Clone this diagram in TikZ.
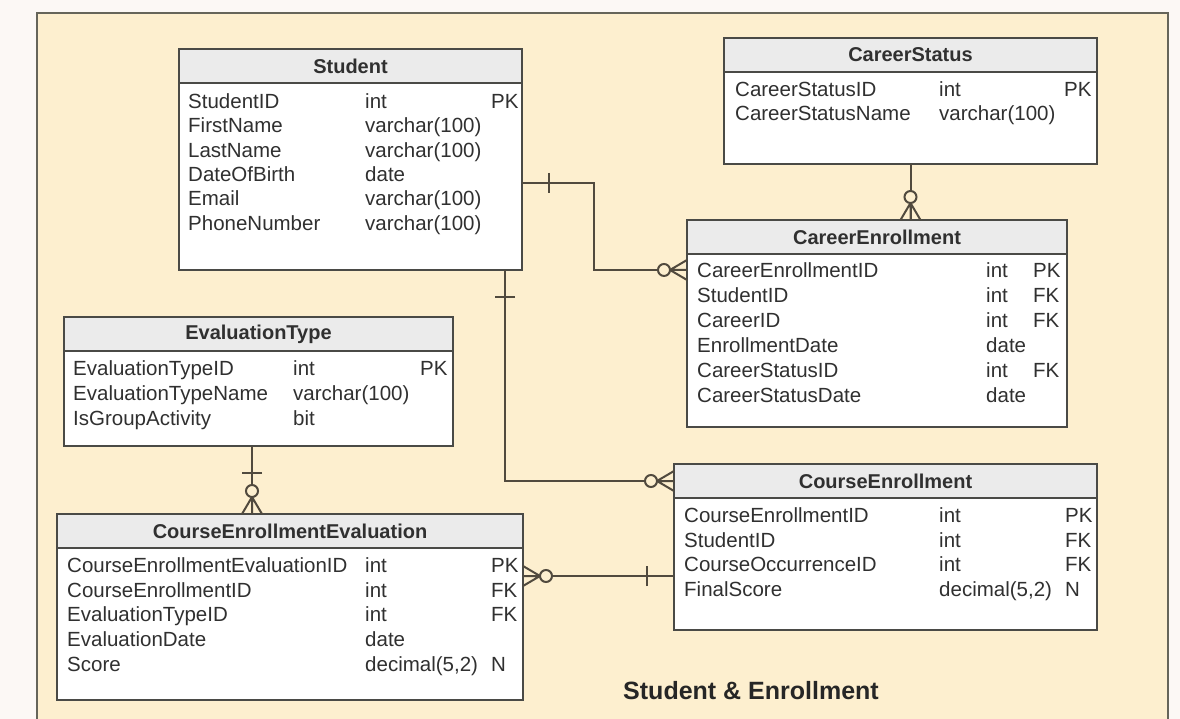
\documentclass[tikz,border=0pt]{standalone}
\usepackage{fontspec}
\setmainfont{Liberation Sans}
\definecolor{pagebg}{HTML}{FCF8F5}
\definecolor{panel}{HTML}{FDEFCF}
\definecolor{panelrule}{HTML}{66655A}
\definecolor{headgray}{HTML}{EBEBEB}
\definecolor{boxrule}{HTML}{4A4A46}
\definecolor{ink}{HTML}{303030}
\definecolor{linkcol}{HTML}{514A3E}

% one table: name, left, top, width, height, title
\newcommand\ertable[6]{%
  \node[tablebox, minimum width=#4pt, minimum height=#5pt, anchor=north west] (#1) at (#2,#3) {};
  \fill[headgray] (#1.north west) rectangle ([yshift=-34pt]#1.north east);
  \draw[seprule] ([yshift=-34pt]#1.north west) -- ([yshift=-34pt]#1.north east);
  \draw[boxrule, line width=1.7pt] (#1.north west) rectangle (#1.south east);
  \node[headtext] (#1-title) at ([yshift=-17pt]#1.north) {#6};
}
% one attribute row: table, index, name, type, key
\newcommand\errow[5]{%
  \pgfmathsetmacro\rowy{\rowzero+(#2-1)*\rowstep}%
  \node[celltext] (#1-n#2) at (\colname,\rowy) {#3};
  \node[celltext] (#1-t#2) at (\coltype,\rowy) {#4};
  \node[celltext] (#1-k#2) at (\colkey,\rowy) {#5};
}
% zero-or-many end: point on the box edge, direction pointing away from the box
\newcommand\manyend[2]{%
  \begin{scope}[shift={(#1)}, rotate=#2]
    \draw[link] (0,-10) -- (17,0) -- (0,10) (0,0) -- (17,0);
    \draw[link, fill=panel] (23,0) circle (6);
  \end{scope}
}
% exactly-one bar
\newcommand\onebar[2]{%
  \begin{scope}[shift={(#1)}, rotate=#2]
    \draw[link] (27,-10) -- (27,10);
  \end{scope}
}

\begin{document}
\begin{tikzpicture}[x=1pt, y=-1pt,
  tablebox/.style={draw=none, fill=white, inner sep=0pt, outer sep=0pt},
  seprule/.style={draw=boxrule, line width=1.8pt},
  headtext/.style={font=\fontsize{20}{24}\bfseries, text=ink, inner sep=0pt},
  celltext/.style={anchor=base west, inner sep=0pt, font=\fontsize{20.5}{24}\selectfont, text=ink},
  link/.style={draw=linkcol, line width=2pt},
  titletext/.style={font=\fontsize{25}{30}\bfseries, text=black!85}]
  \useasboundingbox (0,0) rectangle (1180,719);
  \clip (0,0) rectangle (1180,719);
  \fill[pagebg] (0,0) rectangle (1180,719);
  \draw[fill=panel, draw=panelrule, line width=2.2pt] (37,13) rectangle (1168,760);

  % tables
  \ertable{student}{179}{49}{343}{221}{Student}
  \def\colname{188}\def\coltype{365}\def\colkey{491}\def\rowzero{108.3}\def\rowstep{24.4}
  \errow{student}{1}{StudentID}{int}{PK}
  \errow{student}{2}{FirstName}{varchar(100)}{}
  \errow{student}{3}{LastName}{varchar(100)}{}
  \errow{student}{4}{DateOfBirth}{date}{}
  \errow{student}{5}{Email}{varchar(100)}{}
  \errow{student}{6}{PhoneNumber}{varchar(100)}{}

  \ertable{cs}{724}{38}{373}{126}{CareerStatus}
  \def\colname{735}\def\coltype{939}\def\colkey{1064}\def\rowzero{96.3}\def\rowstep{24}
  \errow{cs}{1}{CareerStatusID}{int}{PK}
  \errow{cs}{2}{CareerStatusName}{varchar(100)}{}

  \ertable{ce}{687}{220}{380}{207}{CareerEnrollment}
  \def\colname{697}\def\coltype{986}\def\colkey{1033}\def\rowzero{277.3}\def\rowstep{25}
  \errow{ce}{1}{CareerEnrollmentID}{int}{PK}
  \errow{ce}{2}{StudentID}{int}{FK}
  \errow{ce}{3}{CareerID}{int}{FK}
  \errow{ce}{4}{EnrollmentDate}{date}{}
  \errow{ce}{5}{CareerStatusID}{int}{FK}
  \errow{ce}{6}{CareerStatusDate}{date}{}

  \ertable{et}{64}{317}{389}{129}{EvaluationType}
  \def\colname{73}\def\coltype{293}\def\colkey{420}\def\rowzero{375.3}\def\rowstep{25}
  \errow{et}{1}{EvaluationTypeID}{int}{PK}
  \errow{et}{2}{EvaluationTypeName}{varchar(100)}{}
  \errow{et}{3}{IsGroupActivity}{bit}{}

  \ertable{cee}{57}{514}{466}{186}{CourseEnrollmentEvaluation}
  \def\colname{67}\def\coltype{365}\def\colkey{491}\def\rowzero{572.3}\def\rowstep{24.75}
  \errow{cee}{1}{CourseEnrollmentEvaluationID}{int}{PK}
  \errow{cee}{2}{CourseEnrollmentID}{int}{FK}
  \errow{cee}{3}{EvaluationTypeID}{int}{FK}
  \errow{cee}{4}{EvaluationDate}{date}{}
  \errow{cee}{5}{Score}{decimal(5,2)}{N}

  \ertable{coe}{674}{464}{423}{166}{CourseEnrollment}
  \def\colname{684}\def\coltype{939}\def\colkey{1065}\def\rowzero{522.3}\def\rowstep{24.7}
  \errow{coe}{1}{CourseEnrollmentID}{int}{PK}
  \errow{coe}{2}{StudentID}{int}{FK}
  \errow{coe}{3}{CourseOccurrenceID}{int}{FK}
  \errow{coe}{4}{FinalScore}{decimal(5,2)}{N}

  % relationships
  \coordinate (stuR) at ([yshift=-23.5pt]student.east);
  \coordinate (ceL) at (ce.west |- ce-n1.west);
  \draw[link] (stuR) -- ++(72,0) |- (ceL);
  \onebar{stuR}{0}
  \manyend{ceL}{180}

  \coordinate (stuB) at ([xshift=-17pt]student.south east);
  \coordinate (coeL) at (coe-title -| coe.west);
  \draw[link] (stuB) |- (coeL);
  \onebar{stuB}{-90}
  \manyend{coeL}{180}

  \coordinate (csB) at (cs.south);
  \coordinate (ceT) at (cs.south |- ce.north);
  \draw[link] (csB) -- (ceT);
  \manyend{ceT}{90}

  \coordinate (etB) at ([xshift=-6.5pt]et.south);
  \coordinate (ceeT) at (etB |- cee.north);
  \draw[link] (etB) -- (ceeT);
  \onebar{etB}{-90}
  \manyend{ceeT}{90}

  \coordinate (ceeR) at ([yshift=31pt]cee.east);
  \coordinate (coeL2) at (ceeR -| coe.west);
  \draw[link] (ceeR) -- (coeL2);
  \manyend{ceeR}{0}
  \onebar{coeL2}{180}

  \node[titletext] (diagtitle) at (751,691) {Student \& Enrollment};
\end{tikzpicture}
\end{document}
